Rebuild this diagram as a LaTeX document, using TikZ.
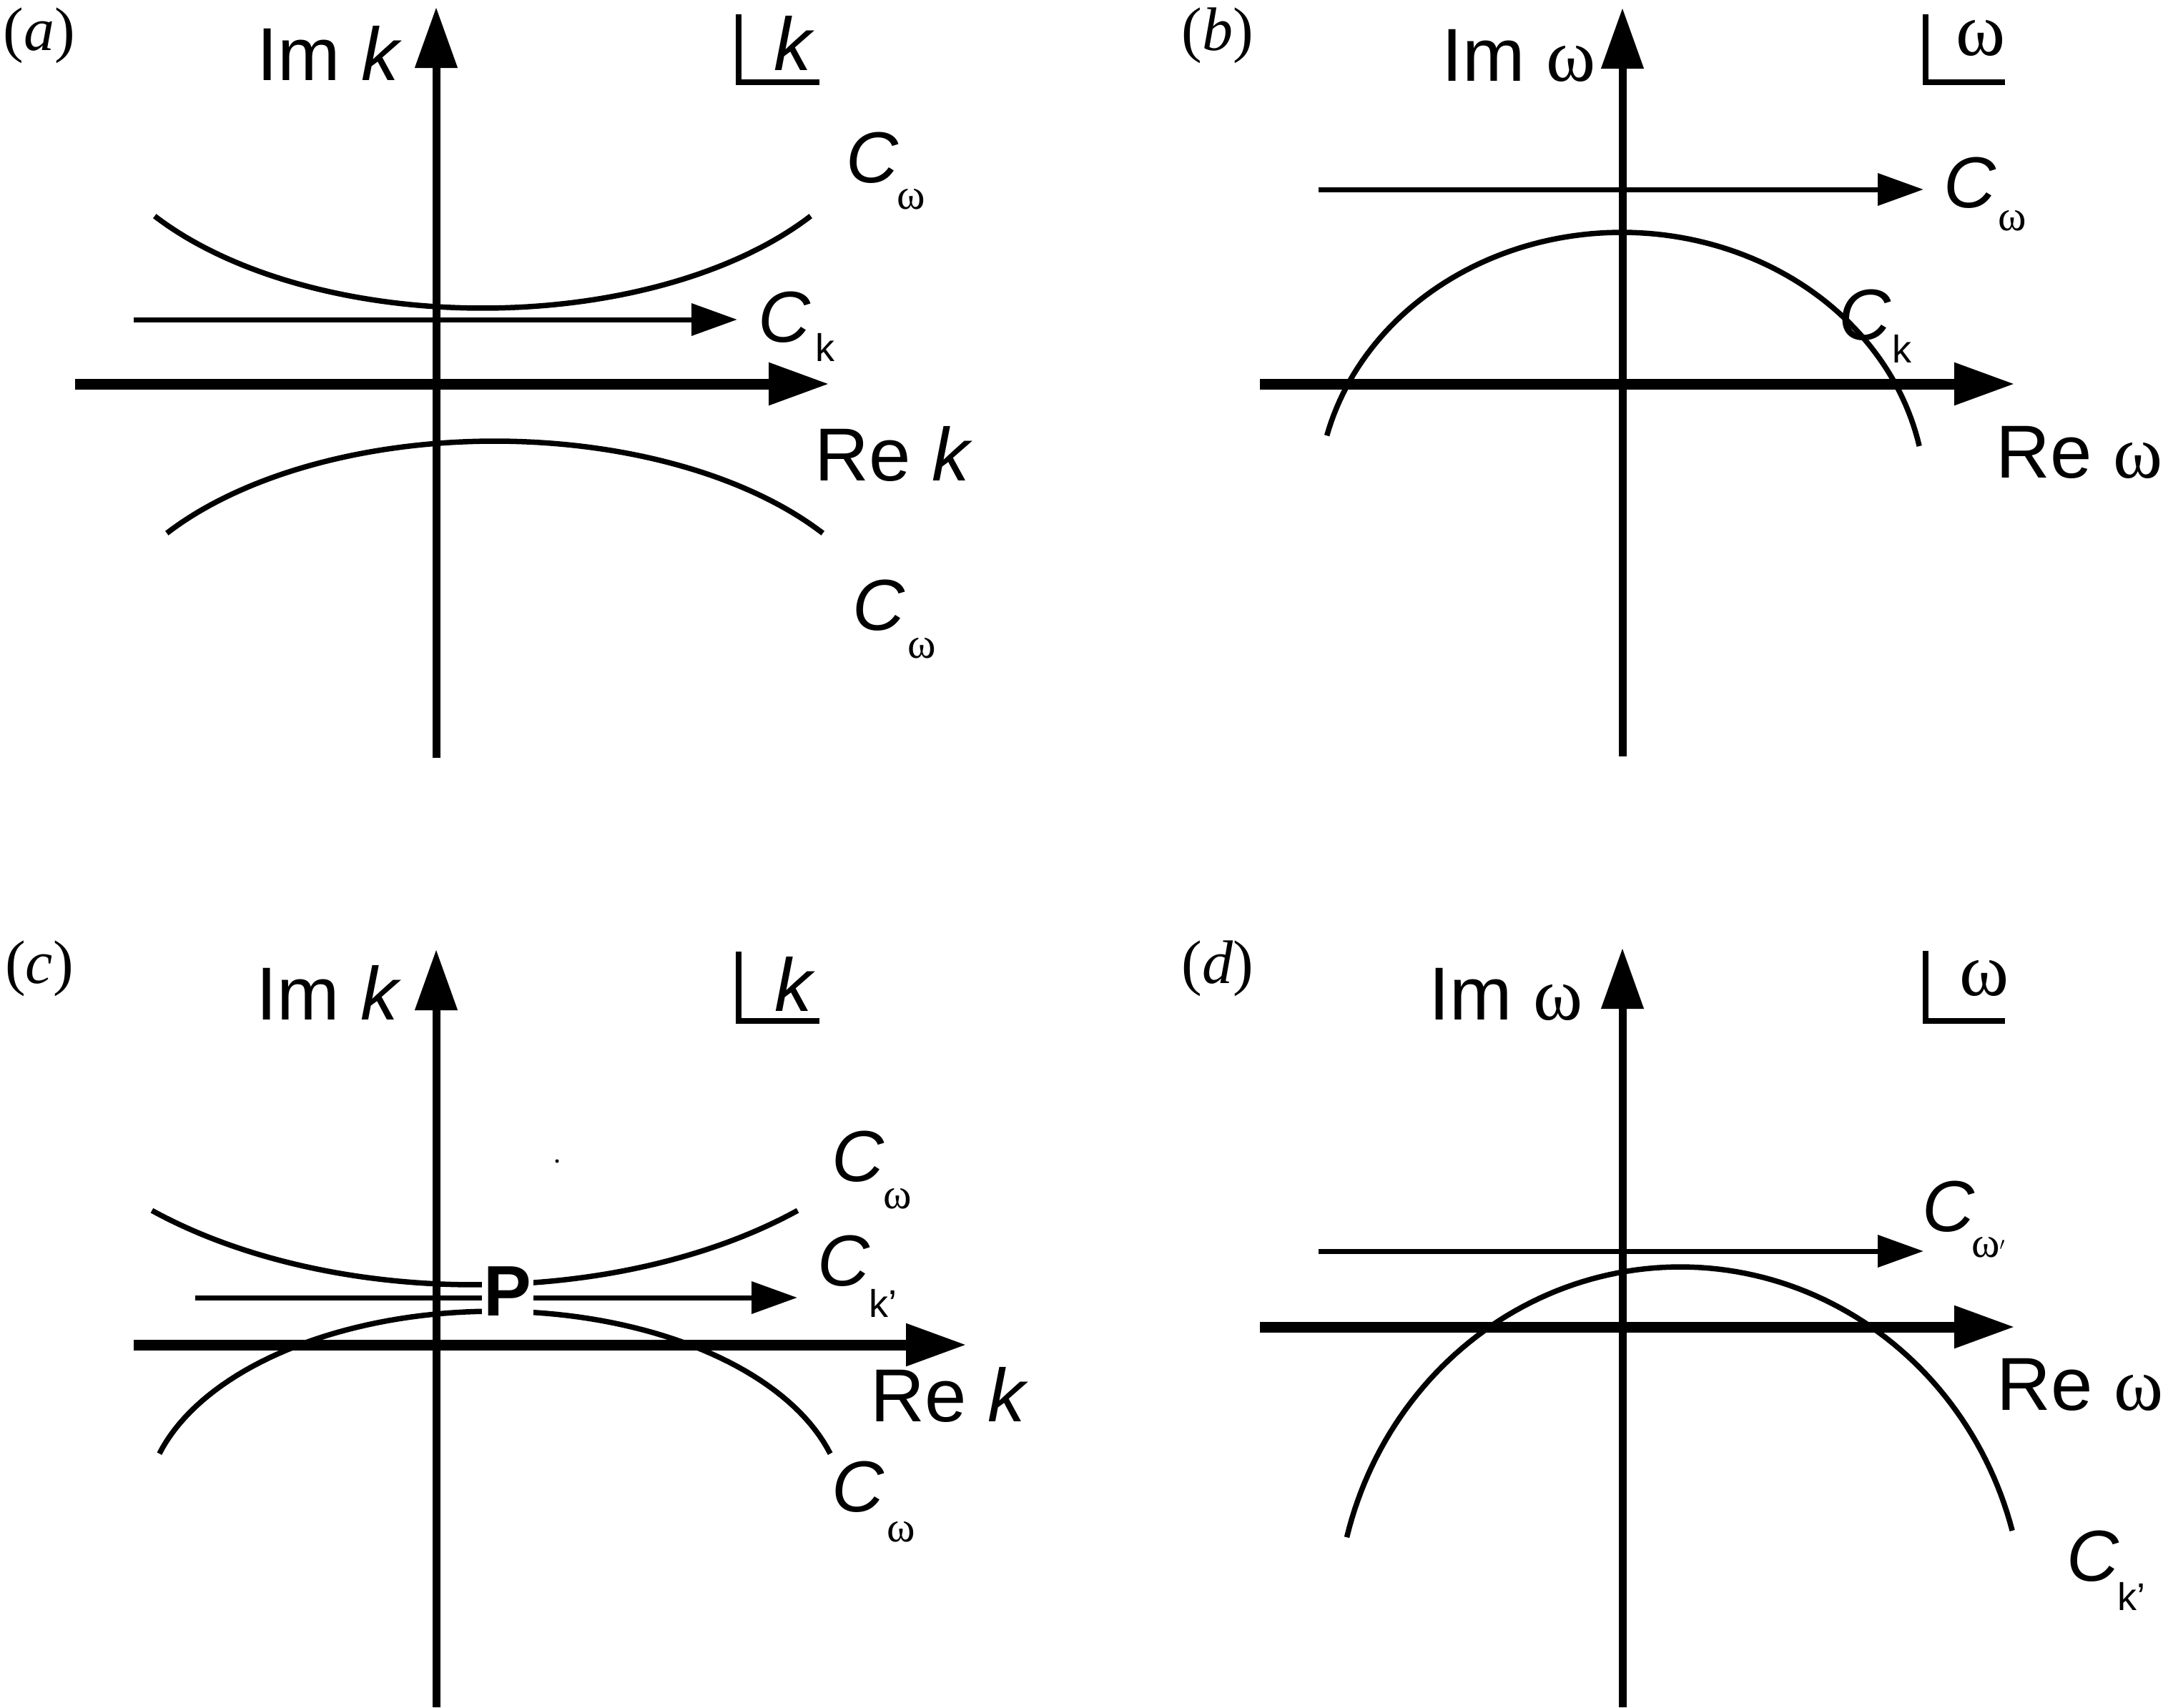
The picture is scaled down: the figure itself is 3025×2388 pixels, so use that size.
\documentclass[tikz,border=0pt]{standalone}
\usepackage{fontspec}
\setmainfont{Liberation Serif}
\newfontfamily\lsans{Liberation Sans}
\usetikzlibrary{arrows.meta}
\begin{document}
\begin{tikzpicture}[x=1pt,y=-1pt,
  vax/.style={line width=11pt,-{Triangle[length=85pt,width=57pt]}},
  rax/.style={line width=15pt,-{Triangle[length=85pt,width=56pt]}},
  cont/.style={line width=7pt,-{Triangle[length=64pt,width=44pt]}},
  curve/.style={line width=7.5pt},
  cornermark/.style={line width=8pt},
  lbl/.style={inner sep=0pt,anchor=base},
  pan/.style={lbl,font=\fontsize{86}{92}\selectfont},
  main/.style={lbl,font=\lsans\fontsize{105}{110}\selectfont},
  cl/.style={lbl,font=\lsans\itshape\fontsize{101}{110}\selectfont},
  subw/.style={lbl,font=\fontsize{60}{64}\selectfont},
  subk/.style={lbl,font=\lsans\fontsize{54}{60}\selectfont},
  pnode/.style={lbl,font=\lsans\bfseries\fontsize{100}{110}\selectfont,fill=white,inner xsep=3pt,inner ysep=1pt}
]
\useasboundingbox[fill=white] (0,0) rectangle (3025,2388);

% ================= panel (a) =================
\node[pan] (pa) at (55,70) {(\textit{a})};
\node[main] (imka) at (461,112) {Im \textit{k}};
\node[main] (kla) at (1111,98) {\textit{k}};
\coordinate (kat) at (1033,20);
\coordinate (kac) at (1033,115);
\coordinate (kar) at (1146,115);
\draw[cornermark] (kat) -- (kac) -- (kar);
% curves
\draw[curve] plot[domain=-145:-35,samples=80,variable=\t] ({675+560*cos(\t)},{129-302*sin(\t)});
\draw[curve] plot[domain=35:145,samples=80,variable=\t] ({692+560*cos(\t)},{919-302*sin(\t)});
% contour arrow
\coordinate (cka1) at (187,447);
\coordinate (cka2) at (1031,447);
\draw[cont] (cka1) -- (cka2);
% axes
\coordinate (vab) at (610,1060);
\coordinate (vat) at (610,10);
\draw[vax] (vab) -- (vat);
\coordinate (hal) at (105,537);
\coordinate (har) at (1160,537);
\draw[rax] (hal) -- (har);
% labels
\node[cl] (cwa1) at (1220,255) {C};
\node[subw] (wa1) at (1274,292) {ω};
\node[cl] (cka) at (1097,478) {C};
\node[subk] (ksa) at (1154,505) {k};
\node[main] (reka) at (1250,672) {Re \textit{k}};
\node[cl] (cwa2) at (1229,881) {C};
\node[subw] (wa2) at (1289,920) {ω};

% ================= panel (b) =================
\node[pan] (pb) at (1703,70) {(\textit{b})};
\node[main] (imwb) at (2124,113) {Im {\rmfamily ω}};
\node[lbl,font=\fontsize{105}{110}\selectfont] (wlb) at (2770,77) {ω};
\coordinate (wbt) at (2693,20);
\coordinate (wbc) at (2693,115);
\coordinate (wbr) at (2804,115);
\draw[cornermark] (wbt) -- (wbc) -- (wbr);
\coordinate (cwb1) at (1844,265);
\coordinate (cwb2) at (2690,265);
\draw[cont] (cwb1) -- (cwb2);
\draw[curve] plot[domain=11.7:166,samples=100,variable=\t] ({2268+425*cos(\t)},{700-375*sin(\t)});
\coordinate (vbb) at (2269,1058);
\coordinate (vbt) at (2269,11);
\draw[vax] (vbb) -- (vbt);
\coordinate (hbl) at (1762,537);
\coordinate (hbr) at (2818,537);
\draw[rax] (hbl) -- (hbr);
\node[cl] (cwbl) at (2755,290) {C};
\node[subw] (wbl) at (2814,322) {ω};
\node[cl] (ckbl) at (2608,475) {C};
\node[subk] (kbl) at (2660,507) {k};
\node[main] (rewb) at (2908,668) {Re {\rmfamily ω}};

% ================= panel (c) =================
\node[pan] (pc) at (55,1375) {(\textit{c})};
\node[main] (imkc) at (460,1426) {Im \textit{k}};
\node[main] (klc) at (1112,1414) {\textit{k}};
\coordinate (kct) at (1033,1331);
\coordinate (kcc) at (1033,1428);
\coordinate (kcr) at (1146,1428);
\draw[cornermark] (kct) -- (kcc) -- (kcr);
\draw[curve] plot[domain=-134:-46,samples=80,variable=\t] ({664+650*cos(\t)},{1427-370*sin(\t)});
\draw[curve] plot[domain=16:164,samples=80,variable=\t] ({692+488*cos(\t)},{2109-275*sin(\t)});
\coordinate (ckc1) at (273,1815);
\coordinate (ckc2) at (1115,1815);
\draw[cont] (ckc1) -- (ckc2);
\coordinate (vcb) at (610,2388);
\coordinate (vct) at (610,1328);
\draw[vax] (vcb) -- (vct);
\coordinate (hcl) at (187,1881);
\coordinate (hcr) at (1352,1881);
\draw[rax] (hcl) -- (hcr);
\node[pnode] (P) at (710,1840) {P};
\fill (779,1624) circle[radius=2.5];
\node[cl] (cwc1) at (1200,1652) {C};
\node[subw] (wc1) at (1255,1690) {ω};
\node[cl] (ckc) at (1180,1798) {C};
\node[subk,anchor=base west] (kc) at (1215,1842) {k’};
\node[main] (rekc) at (1328,1988) {Re \textit{k}};
\node[cl] (cwc2) at (1200,2114) {C};
\node[subw] (wc2) at (1260,2156) {ω};

% ================= panel (d) =================
\node[pan] (pd) at (1703,1375) {(\textit{d})};
\node[main] (imwd) at (2106,1426) {Im {\rmfamily ω}};
\node[lbl,font=\fontsize{105}{110}\selectfont] (wld) at (2775,1392) {ω};
\coordinate (wdt) at (2693,1330);
\coordinate (wdc) at (2693,1428);
\coordinate (wdr) at (2804,1428);
\draw[cornermark] (wdt) -- (wdc) -- (wdr);
\coordinate (cwd1) at (1844,1750);
\coordinate (cwd2) at (2690,1750);
\draw[cont] (cwd1) -- (cwd2);
\draw[curve] plot[domain=15.2:165.9,samples=100,variable=\t] ({2350+481*cos(\t)},{2272-500*sin(\t)});
\coordinate (vdb) at (2269,2388);
\coordinate (vdt) at (2269,1326);
\draw[vax] (vdb) -- (vdt);
\coordinate (hdl) at (1762,1856);
\coordinate (hdr) at (2818,1856);
\draw[rax] (hdl) -- (hdr);
\node[cl] (cwdl) at (2725,1722) {C};
\node[subw,anchor=base west] (wdl) at (2757,1758) {ω$'$};
\node[main] (rewd) at (2909,1972) {Re {\rmfamily ω}};
\node[cl] (ckdl) at (2927,2211) {C};
\node[subk,anchor=base west] (kdl) at (2961,2252) {k’};
\end{tikzpicture}
\end{document}
